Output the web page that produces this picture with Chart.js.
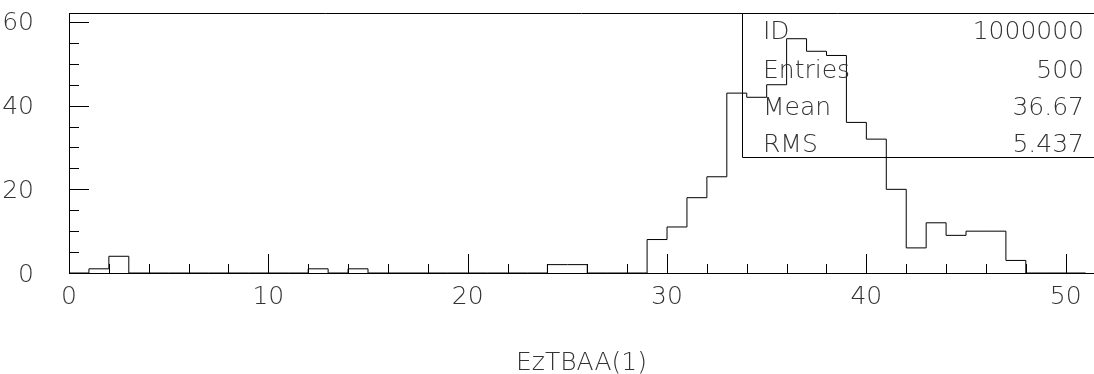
<!DOCTYPE html>
<html>
<head>
<meta charset="utf-8">
<script src="https://cdn.jsdelivr.net/npm/chart.js@4.4.1/dist/chart.umd.min.js"></script>
<style>
  html, body { margin: 0; padding: 0; background: #ffffff; }
  #wrap { width: 1094px; height: 374px; position: relative; }
</style>
</head>
<body>
<div id="wrap"><canvas id="c" width="1094" height="374"></canvas></div>
<script>
// ---- data ----
const binLowEdges = [0,1,2,3,4,5,6,7,8,9,10,11,12,13,14,15,16,17,18,19,20,21,22,23,24,25,26,27,28,29,30,31,32,33,34,35,36,37,38,39,40,41,42,43,44,45,46,47,48,49,50];
const binCounts   = [0,1,4,0,0,0,0,0,0,0,0,0,1,0,1,0,0,0,0,0,0,0,0,0,2,2,0,0,0,8,11,18,23,43,42,45,56,53,52,36,32,20,6,12,9,10,10,3,0,0,0];
const binWidth = 1;
const xMajorTicks = [0,10,20,30,40,50];
const xMinorTicks = [2,4,6,8,12,14,16,18,22,24,26,28,32,34,36,38,42,44,46,48];
const yMajorTicks = [0,20,40,60];
const yMinorTicks = [5,10,15,25,30,35,45,50,55];
const xTitle = 'EzTBAA(1)';
const statLabels = ['ID','Entries','Mean','RMS'];
const statValues = ['1000000','500','36.67','5.437'];

// ---- build step points ----
const pts = binLowEdges.map((x, i) => ({x: x, y: binCounts[i]}));
pts.push({x: binLowEdges[binLowEdges.length - 1] + binWidth, y: 0});

const FONT = "'DejaVu Sans', sans-serif";
const TXT = '#333333';

const framePlugin = {
  id: 'frame',
  afterDatasetsDraw(chart) {
    const {ctx, chartArea: a, scales: {x, y}} = chart;
    ctx.save();
    ctx.strokeStyle = '#000';
    ctx.lineWidth = 1;
    ctx.beginPath();
    // top frame
    ctx.moveTo(a.left, Math.round(a.top) + 0.5);
    ctx.lineTo(a.right, Math.round(a.top) + 0.5);
    // y ticks (inside)
    yMajorTicks.forEach(v => {
      const py = Math.round(y.getPixelForValue(v)) + 0.5;
      ctx.moveTo(a.left, py); ctx.lineTo(a.left + 20, py);
    });
    yMinorTicks.forEach(v => {
      const py = Math.round(y.getPixelForValue(v)) + 0.5;
      ctx.moveTo(a.left, py); ctx.lineTo(a.left + 10, py);
    });
    // x ticks (inside)
    xMajorTicks.forEach(v => {
      const px = Math.round(x.getPixelForValue(v)) + 0.5;
      ctx.moveTo(px, a.bottom); ctx.lineTo(px, a.bottom - 19);
    });
    xMinorTicks.forEach(v => {
      const px = Math.round(x.getPixelForValue(v)) + 0.5;
      ctx.moveTo(px, a.bottom); ctx.lineTo(px, a.bottom - 9);
    });
    // bottom axis line across the full width
    ctx.moveTo(a.left, Math.round(a.bottom) + 0.5);
    ctx.lineTo(a.right, Math.round(a.bottom) + 0.5);
    // stats box
    const bx = 742.5, by = 157.5;
    ctx.moveTo(bx, a.top); ctx.lineTo(bx, by); ctx.lineTo(a.right, by);
    ctx.stroke();

    ctx.fillStyle = TXT;
    ctx.font = '200 25px ' + FONT;
    ctx.textBaseline = 'middle';
    const rowY = [32, 71, 108, 145];
    statLabels.forEach((s, i) => {
      ctx.textAlign = 'left';
      ctx.fillText(s, 763, rowY[i]);
      ctx.textAlign = 'right';
      ctx.fillText(statValues[i], 1084, rowY[i]);
    });
    ctx.restore();
  }
};

new Chart(document.getElementById('c'), {
  type: 'line',
  data: {
    datasets: [{
      data: pts,
      stepped: 'before',
      borderColor: '#000000',
      borderWidth: 1,
      pointRadius: 0,
      fill: false,
      tension: 0
    }]
  },
  options: {
    responsive: false,
    animation: false,
    devicePixelRatio: 1,
    layout: { padding: { top: 13, right: 0, left: 0, bottom: 0 } },
    plugins: { legend: { display: false }, tooltip: { enabled: false } },
    scales: {
      x: {
        type: 'linear',
        min: 0,
        max: 51.42,
        afterBuildTicks: s => { s.ticks = xMajorTicks.map(v => ({value: v})); },
        afterFit: s => { s.height = 101; s.paddingLeft = 0; s.paddingRight = 0; },
        grid: { display: false },
        border: { display: true, color: '#000', width: 1 },
        ticks: { color: TXT, font: { family: FONT, size: 25, weight: 200 }, padding: 1, maxRotation: 0, autoSkip: false },
        title: { display: true, text: xTitle, color: TXT, font: { family: FONT, size: 25, weight: 200 }, padding: { top: 0, bottom: -4 } }
      },
      y: {
        type: 'linear',
        min: 0,
        max: 62.15,
        afterBuildTicks: s => { s.ticks = yMajorTicks.map(v => ({value: v})); },
        afterFit: s => { s.width = 69; s.paddingTop = 0; s.paddingBottom = 0; },
        grid: { display: false },
        border: { display: true, color: '#000', width: 1 },
        ticks: { color: TXT, font: { family: FONT, size: 25, weight: 200 }, padding: 27, labelOffset: 2 }
      }
    }
  },
  plugins: [framePlugin]
});
</script>
</body>
</html>
